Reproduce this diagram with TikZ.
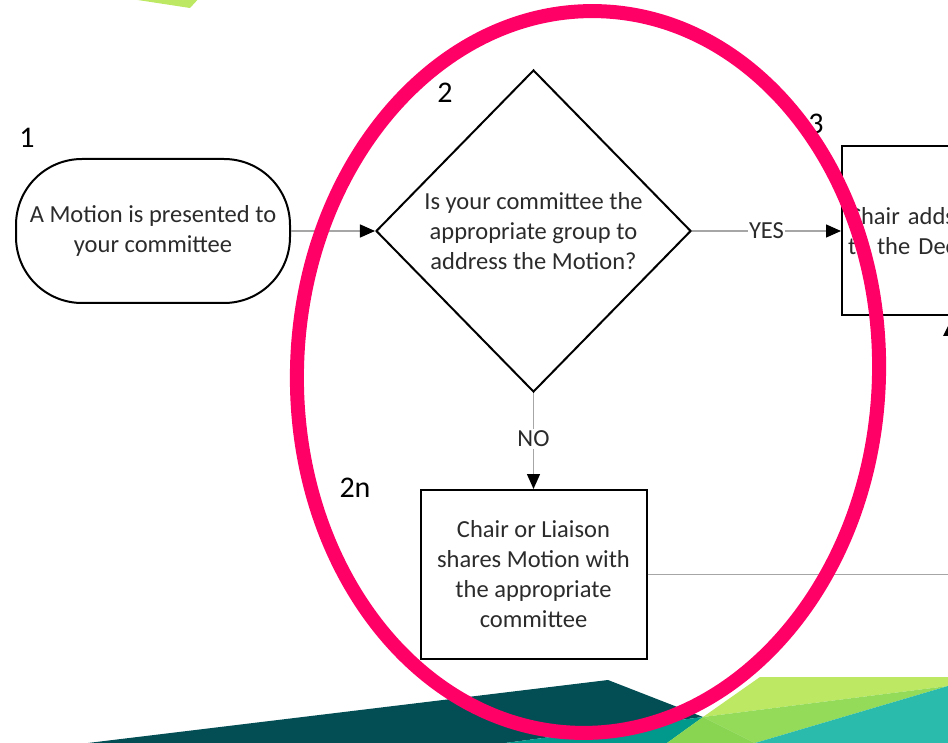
\documentclass[tikz,border=0pt]{standalone}
\usepackage{fontspec}
\setmainfont{Carlito}
\usetikzlibrary{shapes,arrows.meta,positioning}

\definecolor{textgray}{HTML}{2B2B2B}
\definecolor{linegray}{HTML}{A6A6A6}
\definecolor{circlepink}{HTML}{FF0066}
\definecolor{limegreen}{HTML}{BCE864}
\definecolor{midgreen}{HTML}{93DB59}
\definecolor{grassgreen}{HTML}{89D450}
\definecolor{seateal}{HTML}{2BBBAD}
\definecolor{deepteal}{HTML}{00998C}
\definecolor{darkteal}{HTML}{034E55}

\begin{document}
\begin{tikzpicture}[
    x=1pt, y=-1pt,
    node distance=84pt,
    every node/.style={font=\fontsize{24.5}{30}\selectfont, text=textgray},
    term/.style={rectangle,draw,line width=2pt,rounded corners=66pt,minimum width=274pt,minimum height=144pt,align=center,inner sep=0pt},
    decision/.style={diamond,draw,line width=2pt,minimum width=315pt,minimum height=322pt,align=center,inner sep=0pt},
    box/.style={rectangle,draw,line width=2pt,minimum width=226pt,minimum height=169pt,align=center,inner sep=0pt},
    steplabel/.style={font=\fontsize{30}{30}\selectfont, text=black, inner sep=0pt},
    arrow/.style={draw=linegray,line width=1.4pt,-{Triangle[black,length=15pt,width=13pt]}},
    link/.style={draw=linegray,line width=1.4pt}
]
    \useasboundingbox (0,0) rectangle (948,743);
    \clip (0,0) rectangle (948,743);

    % background shapes
    \fill[limegreen] (105,-5) -- (190,8) -- (202,-5) -- cycle;
    \fill[darkteal] (88,743) -- (608,680) -- (703,717) -- (505,743) -- cycle;
    \fill[deepteal] (505,743) -- (703,717) -- (667,743) -- cycle;
    \fill[limegreen] (760,677) -- (948,677) -- (948,686) -- (703,717) -- cycle;
    \fill[midgreen] (703,717) -- (948,686) -- (755,743) -- cycle;
    \fill[grassgreen] (703,717) -- (755,743) -- (667,743) -- cycle;
    \fill[seateal] (948,686) -- (948,743) -- (755,743) -- cycle;

    % flow
    \node[term] (start) at (153,231) {A Motion is presented to\\your committee};
    \node[decision,right=84pt of start] (decide) {Is your committee the\\appropriate group to\\address the Motion?};
    \node[box,right=149pt of decide,minimum width=240pt,text width=228pt,align=left,inner xsep=6pt] (adopt) {Chair adds\\to the Decision};
    \node[box,below=96pt of decide] (share) {Chair or Liaison\\shares Motion with\\the appropriate\\committee};
    \coordinate[right=320pt of share.east] (offright);

    \node[steplabel] (n1) at (27,138) {1};
    \node[steplabel] (n2) at (445,93) {2};
    \node[steplabel] (n3) at (816,124) {3};
    \node[steplabel] (n2n) at (355,488) {2n};

    \draw[arrow] (start) -- (decide);
    \draw[arrow] (decide) -- node[fill=white,inner sep=1pt] {YES} (adopt);
    \draw[arrow] (decide.south) -- node[fill=white,inner sep=2pt,pos=0.48] {NO} (share);
    \draw[link] (share) -- (offright);
    \fill[black] (943,336) -- (950,322) -- (957,336) -- cycle;

    % highlight
    \draw[circlepink,line width=14pt,rotate around={-2:(588,372)}] (588,372) ellipse [x radius=291, y radius=361];
\end{tikzpicture}
\end{document}
